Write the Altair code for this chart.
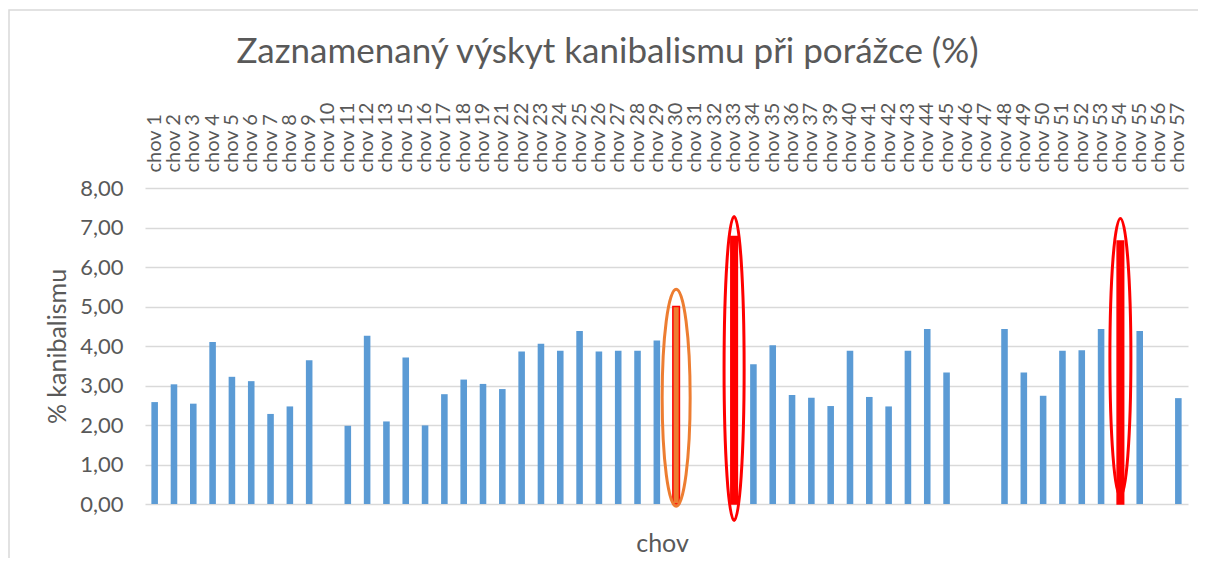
import altair as alt
import pandas as pd

# ---- data ----
chov = ["chov 1", "chov 2", "chov 3", "chov 4", "chov 5", "chov 6", "chov 7", "chov 8", "chov 9",
        "chov 10", "chov 11", "chov 12", "chov 13", "chov 15", "chov 16", "chov 17", "chov 18",
        "chov 19", "chov 21", "chov 22", "chov 23", "chov 24", "chov 25", "chov 26", "chov 27",
        "chov 28", "chov 29", "chov 30", "chov 31", "chov 32", "chov 33", "chov 34", "chov 35",
        "chov 36", "chov 37", "chov 39", "chov 40", "chov 41", "chov 42", "chov 43", "chov 44",
        "chov 45", "chov 46", "chov 47", "chov 48", "chov 49", "chov 50", "chov 51", "chov 52",
        "chov 53", "chov 54", "chov 55", "chov 56", "chov 57"]
kanibalismus = [2.58, 3.03, 2.54, 4.10, 3.22, 3.11, 2.28, 2.47, 3.64,
                None, 1.98, 4.26, 2.09, 3.71, 1.99, 2.78, 3.15,
                3.04, 2.91, 3.86, 4.06, 3.88, 4.38, 3.86, 3.88,
                3.88, 4.14, 5.00, None, None, 6.77, 3.54, 4.02,
                2.76, 2.69, 2.48, 3.88, 2.71, 2.47, 3.88, 4.43,
                3.33, None, None, 4.43, 3.33, 2.74, 3.88, 3.89,
                4.43, 6.66, 4.38, None, 2.68]
y_ticks = [0, 1, 2, 3, 4, 5, 6, 7, 8]

# highlighted farms and their ellipse annotations (centre in data units)
highlight_orange = ["chov 30"]
highlight_red = ["chov 33", "chov 54"]
ellipse_chov = ["chov 30", "chov 33", "chov 54"]
ellipse_mid = [2.69, 3.43, 3.71]

rows = [(c, v) for c, v in zip(chov, kanibalismus) if v is not None]
df = pd.DataFrame(rows, columns=["chov", "value"])
ell = pd.DataFrame({"chov": ellipse_chov, "mid": ellipse_mid})

FONT = "Lato"
GREY = "#595959"
BLUE = "#5B9BD5"
RED = "#FF0000"
ORANGE = "#ED7D31"

W, H = 1043, 316

xscale = alt.Scale(domain=chov, paddingInner=0.66, paddingOuter=0.33)
yscale = alt.Scale(domain=[0, 8])

y_axis = alt.Axis(values=y_ticks, title="% kanibalismu",
                  labelExpr="replace(format(datum.value, '.2f'), '.', ',')",
                  labelFontSize=22, labelPadding=22, tickSize=0, ticks=False,
                  domain=False, grid=True, gridColor="#d9d9d9", gridWidth=1.3,
                  labelFont=FONT, labelColor=GREY,
                  titleFont=FONT, titleColor=GREY, titleFontSize=25,
                  titleFontWeight="normal", titleAngle=-90, titleAlign="center",
                  titleBaseline="middle", titleX=-88, titleY=H / 2)

top_axis = alt.Axis(orient="top", title=None, labelAngle=-90, labelFontSize=20,
                    labelPadding=16, tickSize=0, ticks=False, domain=False,
                    grid=False, labelOverlap=False, labelFont=FONT, labelColor=GREY)

bottom_axis = alt.Axis(orient="bottom", title="chov", labels=False, ticks=False, domain=False,
                       grid=False, titleFont=FONT, titleColor=GREY, titleFontSize=25,
                       titleFontWeight="normal", titleX=517, titleY=47,
                       titleBaseline="alphabetic", titleAlign="center")
empty_bottom = alt.Axis(orient="bottom", title=None, labels=False, ticks=False, domain=False,
                        grid=False)

kind_expr = ("indexof(" + str(highlight_red) + ", datum.chov) >= 0 ? 'red' : "
             "(indexof(" + str(highlight_orange) + ", datum.chov) >= 0 ? 'orange' : 'blue')")

bars = alt.Chart(df).transform_calculate(kind=kind_expr).mark_bar().encode(
    x=alt.X("chov:N", scale=xscale, sort=chov, axis=top_axis),
    y=alt.Y("value:Q", scale=yscale, axis=y_axis),
    fill=alt.Fill("kind:N", scale=alt.Scale(domain=["blue", "orange", "red"],
                                            range=[BLUE, ORANGE, RED]), legend=None),
    stroke=alt.value(RED),
    strokeWidth=alt.condition("datum.kind == 'blue'", alt.value(0), alt.value(1.5)),
)


def ellipse_path(rx):
    return f"M 0 -1 A {rx} 1 0 1 1 0 1 A {rx} 1 0 1 1 0 -1 Z"


ell_specs = [
    ("chov 30", ORANGE, 0.129, 217, bottom_axis),
    ("chov 33", RED, 0.066, 304, empty_bottom),
    ("chov 54", RED, 0.0755, 278, empty_bottom),
]
ell_layers = []
for c, col, rx, h, ax in ell_specs:
    ell_layers.append(
        alt.Chart(ell).transform_filter(alt.datum.chov == c).mark_point(
            shape=ellipse_path(rx), size=h * h, filled=False, strokeWidth=3,
            color=col, opacity=1
        ).encode(
            x=alt.X("chov:N", scale=xscale, sort=chov, axis=ax),
            y=alt.Y("mid:Q", scale=yscale, axis=y_axis),
        )
    )

frame = alt.Chart(pd.DataFrame({"a": [0]})).mark_rect(
    filled=False, stroke="#d9d9d9", strokeWidth=1.5
).encode(
    x=alt.value(-136), x2=alt.value(W + 200), y=alt.value(-178), y2=alt.value(H + 200)
)

chart = alt.layer(bars, *ell_layers, frame).properties(
    width=W, height=H,
    title=alt.TitleParams("Zaznamenaný výskyt kanibalismu při porážce (%)",
                          font=FONT, fontSize=35, fontWeight="normal", color=GREY,
                          anchor="middle", frame="group", offset=0, dx=-59, dy=89,
                          baseline="alphabetic"),
    autosize=alt.AutoSizeParams(type="none"),
    padding={"left": 137, "top": 180, "right": 10, "bottom": 54},
).configure_view(stroke=None)

chart.save("out.html", embed_options={"renderer": "svg", "actions": False})
